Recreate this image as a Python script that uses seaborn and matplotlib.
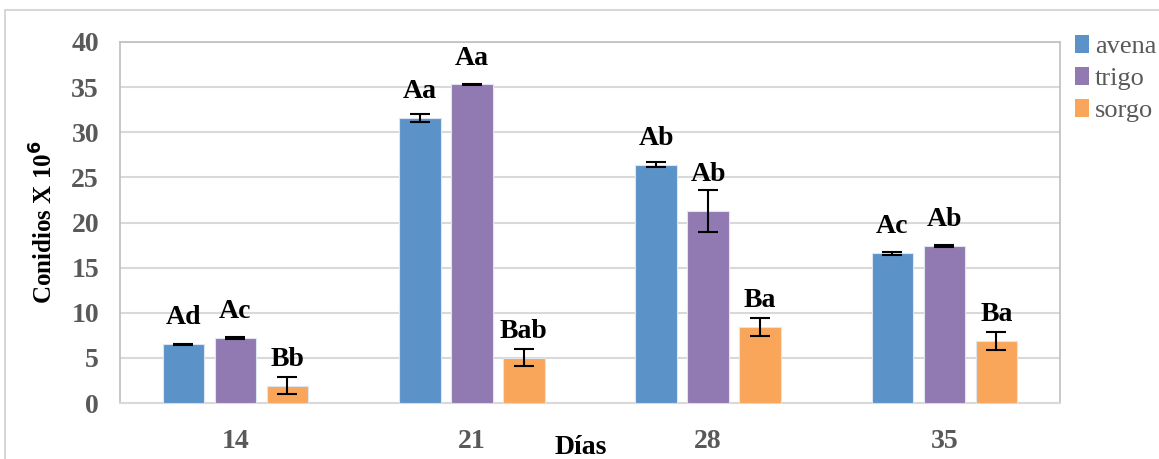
import matplotlib
matplotlib.use("Agg")
import matplotlib.pyplot as plt
import seaborn as sns
import pandas as pd
import numpy as np
from matplotlib.patches import Rectangle

# Conidia production (x 10^6) by substrate and day
dias = ["14", "21", "28", "35"]
sustratos = ["avena", "trigo", "sorgo"]
avena = [6.5, 31.6, 26.4, 16.6]
trigo = [7.2, 35.3, 21.3, 17.4]
sorgo = [1.9, 5.0, 8.4, 6.9]
avena_err = [0.08, 0.45, 0.3, 0.15]
trigo_err = [0.12, 0.1, 2.3, 0.08]
sorgo_err = [0.95, 0.95, 1.0, 1.0]
avena_let = ["Ad", "Aa", "Ab", "Ac"]
trigo_let = ["Ac", "Aa", "Ab", "Ab"]
sorgo_let = ["Bb", "Bab", "Ba", "Ba"]

colores = ["#5B93C9", "#9179B1", "#F9A65A"]

rows = []
for s, vals, errs, lets in zip(sustratos, [avena, trigo, sorgo],
                               [avena_err, trigo_err, sorgo_err],
                               [avena_let, trigo_let, sorgo_let]):
    for d, v, e, l in zip(dias, vals, errs, lets):
        rows.append({"Días": d, "sustrato": s, "valor": v, "err": e, "letra": l})
df = pd.DataFrame(rows)

sns.set_theme(style="white")
plt.rcParams["font.family"] = ["Liberation Serif", "DejaVu Serif"]

fig = plt.figure(figsize=(11.59, 4.59), dpi=100)
ax = fig.add_axes([0.1035, 0.122, 0.811, 0.7865])

sns.barplot(data=df, x="Días", y="valor", hue="sustrato", order=dias,
            hue_order=sustratos, palette=colores, width=0.66, gap=0.2,
            errorbar=None, edgecolor="#DDE6F0", linewidth=0.8, saturation=1,
            ax=ax, zorder=3)

# error bars and significance letters on each bar
for cont, s in zip(ax.containers, sustratos):
    sub = df[df["sustrato"] == s].set_index("Días").loc[dias]
    for patch, (_, r) in zip(cont.patches, sub.iterrows()):
        cx = patch.get_x() + patch.get_width() / 2
        h = patch.get_height()
        ax.errorbar(cx, h, yerr=r["err"], fmt="none", ecolor="black",
                    elinewidth=1.5, capsize=7, capthick=1.5, zorder=4)
        y_txt = max(h + 2.2, h + r["err"] + 1.0)
        ax.text(cx, y_txt, r["letra"], ha="center", va="baseline",
                fontsize=20, fontweight="bold", color="black")

ax.set_ylim(0, 40)
ax.set_yticks(range(0, 41, 5))
ax.yaxis.grid(True, color="#D9D9D9", linewidth=1.5, zorder=0)
ax.xaxis.grid(False)
ax.set_axisbelow(True)
for side in ["left", "top", "right"]:
    ax.spines[side].set_color("#BFBFBF")
    ax.spines[side].set_linewidth(1.2)
ax.spines["bottom"].set_color("#D9D9D9")
ax.spines["bottom"].set_linewidth(1.5)

ax.tick_params(axis="y", length=0, pad=15, labelsize=20, labelcolor="#595959")
ax.tick_params(axis="x", length=0, pad=19, labelsize=20, labelcolor="#595959")
for lab in ax.get_xticklabels() + ax.get_yticklabels():
    lab.set_fontweight("bold")

ax.set_ylabel("Conidios X 10$^{\\mathbf{6}}$", fontsize=18, fontweight="bold",
              color="black", labelpad=10)
ax.set_xlabel("Días", fontsize=20, fontweight="bold", color="black")
ax.xaxis.set_label_coords(0.49, -0.088)

handles, labels = ax.get_legend_handles_labels()
leg = ax.legend(handles, labels, loc="upper left", bbox_to_anchor=(1.016, 1.02),
                frameon=False, fontsize=19, handlelength=0.55, handleheight=0.7,
                handletextpad=0.2, labelspacing=0.32, borderaxespad=0,
                borderpad=0)
for t in leg.get_texts():
    t.set_color("#595959")
for h in leg.legend_handles:
    h.set_edgecolor("none")

# outer frame of the figure
fig.patches.append(Rectangle((5 / 1159, -0.1), 1.2, 1.1 - 10 / 459,
                             transform=fig.transFigure, fill=False,
                             edgecolor="#D0D0D0", linewidth=1.2))

fig.savefig("out.png", dpi=100)
